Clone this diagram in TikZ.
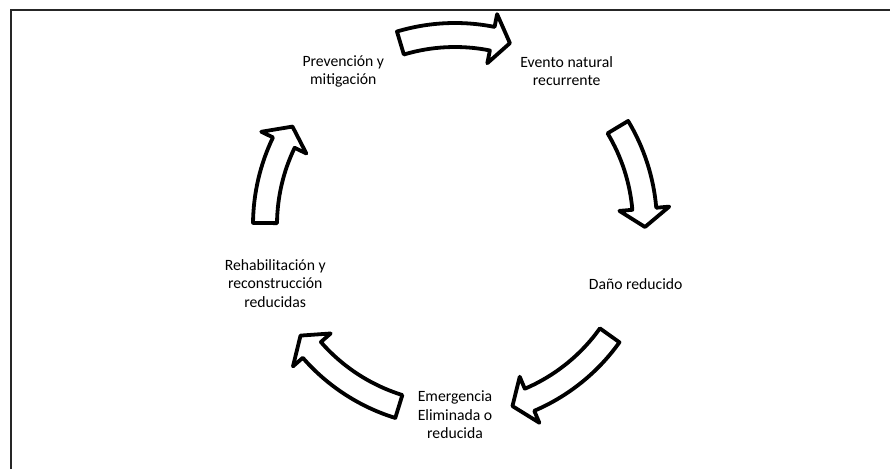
\documentclass[tikz,border=0pt]{standalone}
\usepackage{fontspec}
\setmainfont{Carlito}
\tikzset{
  cyclearrow/.style={draw=black, fill=white, line width=3.8pt, line join=round},
  steplabel/.style={align=center, font=\fontsize{15.7}{18.5}\selectfont, inner sep=0pt},
}

\begin{document}
\begin{tikzpicture}[x=1pt,y=1pt]
  \useasboundingbox (-455,-244) rectangle (435,225);
  % marco
  \draw[black!85, line width=1.5pt] (-444,-244) -- (-444,215) -- (435,215);
  % etiquetas del ciclo
  \node[steplabel] (prev) at (126:190pt) {Prevención y\\mitigación};
  \node[steplabel] (evento) at (54:190pt) {Evento natural\\recurrente};
  \node[steplabel] (dano) at (-18:190pt) {Daño reducido};
  \node[steplabel] (emerg) at (-90:190pt) {Emergencia\\Eliminada o\\reducida};
  \node[steplabel] (rehab) at (-162:189pt) {Rehabilitación y\\reconstrucción\\reducidas};
  % flechas entre etapas
  \foreach \a/\b in {106.7/73.2, 31/-0.6, -35.5/-72.4, -107.2/-144.4, 179.4/148.8}{
    \draw[cyclearrow] (\a:202pt) arc[start angle=\a, end angle=\b+5.5, radius=202pt]
      -- ({\b+5.5}:215pt) -- (\b:190pt) -- ({\b+5.5}:165pt) -- ({\b+5.5}:178pt)
      arc[start angle=\b+5.5, end angle=\a, radius=178pt] -- cycle;
  }
\end{tikzpicture}
\end{document}
